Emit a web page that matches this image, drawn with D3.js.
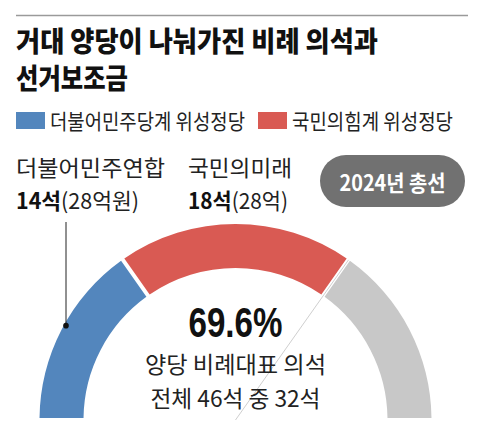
<html>
<head>
<meta charset="utf-8" />
<script src="https://cdn.jsdelivr.net/npm/d3@7"></script>
<style>
body { margin: 0; background: #fff; }
text { font-family: 'Liberation Sans Narrow', 'Noto Sans CJK KR', sans-serif; }
</style>
</head>
<body>
<svg id="chart" width="480" height="435"></svg>
<script>

// data
var parties = ["더불어민주당계 위성정당", "국민의힘계 위성정당", "기타"];
var seats = [14, 18, 14];
var colors = ["#5386bd", "#d95a53", "#c8c8c8"];
var partyNames = ["더불어민주연합", "국민의미래"];
var subsidy = ["(28억원)", "(28억)"];
var totalSeats = 46;
var titleLines = ["거대 양당이 나눠가진 비례 의석과", "선거보조금"];
var badge = "2024년 총선";

var svg = d3.select("#chart");

var cx = 235.5, cy = 420;
var outerR = 196, innerR = 152;

// top rule
svg.append("line")
    .attr("x1", 16).attr("x2", 468)
    .attr("y1", 15.5).attr("y2", 15.5)
    .attr("stroke", "#9a9a9a").attr("stroke-width", 1.5);

// title
var titleW = [362, 112];
svg.selectAll(".title").data(titleLines).enter()
  .append("text")
    .attr("class", "title")
    .attr("x", 16)
    .attr("y", function(d, i) { return 52 + i * 37; })
    .attr("font-size", 28)
    .attr("font-weight", "900")
    .attr("fill", "#111")
    .attr("textLength", function(d, i) { return titleW[i]; })
    .attr("lengthAdjust", "spacingAndGlyphs")
    .text(function(d) { return d; });

// legend
var legX = [16, 258], legW = [195, 161];
var leg = svg.selectAll(".leg").data(parties.slice(0, 2)).enter()
  .append("g").attr("class", "leg")
  .attr("transform", function(d, i) { return "translate(" + legX[i] + ",112)"; });
leg.append("rect")
    .attr("width", 29).attr("height", 17)
    .attr("fill", function(d, i) { return colors[i]; });
leg.append("text")
    .attr("x", 34).attr("y", 17)
    .attr("font-size", 21)
    .attr("fill", "#222")
    .attr("textLength", function(d, i) { return legW[i]; })
    .attr("lengthAdjust", "spacingAndGlyphs")
    .text(function(d) { return d; });

// party labels
var labX = [16, 188];
var nameW = [149, 104];
var rowW = [123, 100];
partyNames.forEach(function(name, i) {
  svg.append("text")
      .attr("x", labX[i]).attr("y", 176)
      .attr("font-size", 22).attr("fill", "#222")
      .attr("textLength", nameW[i]).attr("lengthAdjust", "spacingAndGlyphs")
      .text(name);
  var t = svg.append("text")
      .attr("x", labX[i]).attr("y", 209)
      .attr("font-size", 22).attr("fill", "#222")
      .attr("textLength", rowW[i]).attr("lengthAdjust", "spacingAndGlyphs");
  t.append("tspan").attr("font-weight", "bold").attr("fill", "#111").text(seats[i] + "석");
  t.append("tspan").text(subsidy[i]);
});

// badge
svg.append("rect")
    .attr("x", 320).attr("y", 155)
    .attr("width", 145).attr("height", 52)
    .attr("rx", 26)
    .attr("fill", "#717171");
svg.append("text")
    .attr("x", 392.5).attr("y", 191)
    .attr("text-anchor", "middle")
    .attr("font-size", 22).attr("font-weight", "bold").attr("fill", "#fff")
    .attr("textLength", 106).attr("lengthAdjust", "spacingAndGlyphs")
    .text(badge);

// half donut
var pie = d3.pie().sort(null)
    .startAngle(-Math.PI / 2).endAngle(Math.PI / 2)
    .padAngle(0.016);
var arc = d3.arc().innerRadius(innerR).outerRadius(outerR);
var arcs = pie(seats);

var g = svg.append("g").attr("transform", "translate(" + cx + "," + cy + ")");
g.selectAll("path").data(arcs).enter()
  .append("path")
    .attr("d", arc)
    .attr("fill", function(d, i) { return colors[i]; });

// thin radial divider where the two big parties end
var ang = d3.scaleLinear().domain([0, totalSeats]).range([-Math.PI / 2, Math.PI / 2]);
var cut = ang(seats[0] + seats[1]);
g.append("line")
    .attr("x1", 0).attr("y1", 0)
    .attr("x2", outerR * Math.sin(cut))
    .attr("y2", -outerR * Math.cos(cut))
    .attr("stroke", "#cfcfcf").attr("stroke-width", 1);

// leader line to the blue arc
var leaderX = 66 - cx;
var dotR = 194;
var dotY = -Math.sqrt(dotR * dotR - leaderX * leaderX);
g.append("line")
    .attr("x1", leaderX).attr("x2", leaderX)
    .attr("y1", 222 - cy).attr("y2", dotY)
    .attr("stroke", "#222").attr("stroke-width", 1);
g.append("circle")
    .attr("cx", leaderX).attr("cy", dotY).attr("r", 2.8)
    .attr("fill", "#111");

// centre text
var both = seats[0] + seats[1];
var pct = d3.format(".1f")(both / totalSeats * 100) + "%";
svg.append("text")
    .attr("x", cx).attr("y", 337)
    .attr("text-anchor", "middle")
    .style("font-family", "'Liberation Sans Narrow', sans-serif")
    .attr("font-size", 42).attr("font-weight", "bold").attr("fill", "#111")
    .attr("textLength", 94).attr("lengthAdjust", "spacingAndGlyphs")
    .text(pct);
svg.append("text")
    .attr("x", cx).attr("y", 373)
    .attr("text-anchor", "middle")
    .attr("font-size", 23).attr("fill", "#222")
    .attr("textLength", 181).attr("lengthAdjust", "spacingAndGlyphs")
    .text("양당 비례대표 의석");
svg.append("text")
    .attr("x", cx).attr("y", 407)
    .attr("text-anchor", "middle")
    .attr("font-size", 23).attr("fill", "#222")
    .attr("textLength", 170).attr("lengthAdjust", "spacingAndGlyphs")
    .text("전체 " + totalSeats + "석 중 " + both + "석");

</script>
</body>
</html>
